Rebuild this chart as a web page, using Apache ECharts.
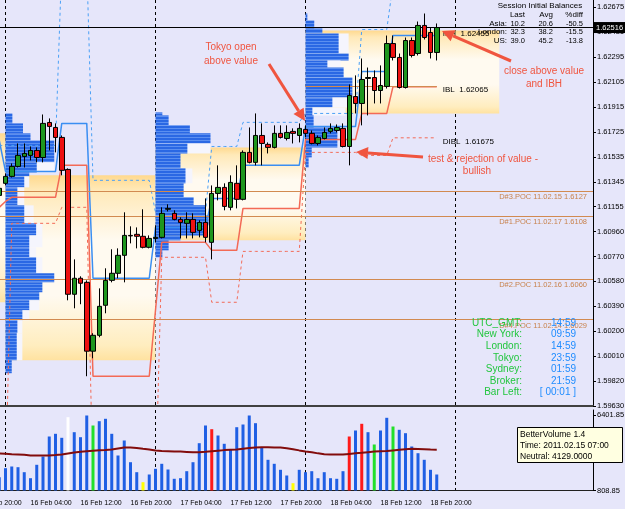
<!DOCTYPE html>
<html>
<head>
<meta charset="utf-8">
<title>GBPUSD H1 - sessions and market profile</title>
<script src="https://cdn.jsdelivr.net/npm/echarts@6.0.0/dist/echarts.min.js"></script>
<style>
  html, body { margin: 0; padding: 0; background: #e6e6fa; }
  #chart { width: 625px; height: 509px; }
</style>
</head>
<body>
<div id="chart"></div>
<script>
// hourly bars (broker time), first bar is 15 Feb 23:00
var barOpen = [
  1.61236, 1.61328, 1.61381, 1.61457, 1.61533, 1.61541, 1.61579, 1.61525, 1.61792, 1.61754,
  1.61678, 1.61434, 1.60482, 1.60604, 1.60573, 1.60048, 1.60169, 1.60398, 1.60588, 1.60642,
  1.60779, 1.60931, 1.60939, 1.60924, 1.60840, 1.60908, 1.60916, 1.61130, 1.61099, 1.61053,
  1.61023, 1.61053, 1.60969, 1.61030, 1.60878, 1.61251, 1.61297, 1.61145, 1.61328, 1.61206,
  1.61564, 1.61488, 1.61693, 1.61625, 1.61602, 1.61709, 1.61670, 1.61724, 1.61693, 1.61739,
  1.61709, 1.61632, 1.61670, 1.61724, 1.61731, 1.61747, 1.61609, 1.61990, 1.61937, 1.62128,
  1.62135, 1.62036, 1.62067, 1.62394, 1.62288, 1.62059, 1.62417, 1.62318, 1.62532, 1.62478,
  1.62326
];
var barHigh = [
  1.61312, 1.61404, 1.61480, 1.61632, 1.61632, 1.61609, 1.61602, 1.61853, 1.61823, 1.61785,
  1.61693, 1.61442, 1.60748, 1.60619, 1.60588, 1.60185, 1.60527, 1.60680, 1.60825, 1.60832,
  1.61107, 1.61000, 1.60992, 1.61130, 1.60931, 1.61008, 1.61145, 1.61168, 1.61122, 1.61069,
  1.61107, 1.61099, 1.61046, 1.61213, 1.61312, 1.61465, 1.61328, 1.61389, 1.61465, 1.61579,
  1.61754, 1.61861, 1.61785, 1.61640, 1.61770, 1.61770, 1.61770, 1.61747, 1.61785, 1.61770,
  1.61731, 1.61693, 1.61754, 1.61785, 1.61777, 1.61785, 1.62082, 1.62151, 1.62280, 1.62211,
  1.62189, 1.62227, 1.62455, 1.62455, 1.62318, 1.62440, 1.62440, 1.62562, 1.62623, 1.62516,
  1.62547
];
var barLow = [
  1.61213, 1.61312, 1.61373, 1.61449, 1.61449, 1.61503, 1.61488, 1.61488, 1.61579, 1.61564,
  1.61389, 1.60436, 1.60375, 1.60406, 1.59857, 1.59994, 1.60154, 1.60337, 1.60573, 1.60604,
  1.60573, 1.60870, 1.60832, 1.60832, 1.60832, 1.60878, 1.60908, 1.61114, 1.61046, 1.60908,
  1.60908, 1.60908, 1.60916, 1.60878, 1.60748, 1.61198, 1.61122, 1.61122, 1.61137, 1.61198,
  1.61480, 1.61465, 1.61465, 1.61556, 1.61594, 1.61670, 1.61655, 1.61632, 1.61640, 1.61678,
  1.61625, 1.61617, 1.61663, 1.61709, 1.61716, 1.61602, 1.61465, 1.61861, 1.61770, 1.61846,
  1.61937, 1.61937, 1.62051, 1.62265, 1.62051, 1.62051, 1.62288, 1.62303, 1.62425, 1.62280,
  1.62265
];
var barClose = [
  1.61290, 1.61381, 1.61457, 1.61541, 1.61556, 1.61579, 1.61525, 1.61785, 1.61762, 1.61678,
  1.61427, 1.60482, 1.60604, 1.60566, 1.60048, 1.60169, 1.60390, 1.60588, 1.60642, 1.60779,
  1.60931, 1.60927, 1.60924, 1.60840, 1.60908, 1.60916, 1.61099, 1.61137, 1.61053, 1.61030,
  1.61053, 1.60954, 1.61030, 1.60916, 1.61251, 1.61297, 1.61152, 1.61335, 1.61206, 1.61564,
  1.61488, 1.61693, 1.61632, 1.61602, 1.61709, 1.61678, 1.61716, 1.61709, 1.61747, 1.61709,
  1.61632, 1.61678, 1.61716, 1.61747, 1.61754, 1.61609, 1.61998, 1.61937, 1.62120, 1.62135,
  1.62036, 1.62074, 1.62394, 1.62288, 1.62059, 1.62417, 1.62303, 1.62532, 1.62440, 1.62326,
  1.62516
];

// BetterVolume 1.4
var volume = [
  1794, 2461, 2587, 2535, 2165, 1720, 2713, 3328, 4809, 5009,
  4713, 6239, 5128, 4757, 6365, 5624, 5943, 6121, 5009, 3402,
  4513, 2905, 2165, 1424, 1994, 2416, 2787, 2365, 1676, 1720,
  2239, 2905, 4313, 5624, 5350, 4883, 4269, 3824, 5498, 5698,
  6365, 5795, 3972, 3083, 2787, 2342, 1920, 1350, 2342, 2165,
  2239, 1720, 2165, 1720, 1676, 2239, 4809, 5254, 5750, 5128,
  4217, 5254, 6195, 5550, 5306, 5054, 4069, 3572, 3083, 2342,
  1994
];
var volumeAverage = [
  3560, 3530, 3500, 3480, 3460, 3410, 3400, 3400, 3410, 3430,
  3480, 3550, 3620, 3680, 3720, 3760, 3790, 3810, 3850, 3920,
  3990, 3990, 3960, 3900, 3850, 3770, 3740, 3720, 3700, 3690,
  3670, 3650, 3650, 3680, 3720, 3760, 3800, 3830, 3850, 3900,
  3950, 4000, 4020, 4010, 4000, 3990, 3940, 3870, 3780, 3700,
  3640, 3560, 3500, 3480, 3470, 3480, 3520, 3560, 3600, 3650,
  3690, 3720, 3740, 3780, 3820, 3860, 3900, 3880, 3860, 3840,
  3830
];
var climaxHighBars = [34, 56, 58];
var climaxLowBars = [11];
var churnBars = [15, 60, 63];
var lowVolumeBars = [23, 47];

// developing initial balance levels per bar
var ibHigh = [
  1.61655,
  1.61419, 1.61419, 1.61419, 1.61419, 1.61419, 1.61419, 1.61419, 1.61419, 1.61419,
  1.61785, 1.61785, 1.61785, 1.61785, 1.61785,
  1.60604, 1.60604, 1.60604, 1.60604, 1.60604, 1.60604, 1.60604, 1.60604, 1.60604, 1.60604,
  1.60992, 1.60992, 1.60992, 1.60992, 1.60992, 1.60992, 1.60992, 1.60992, 1.60992,
  1.61213, 1.61213, 1.61213, 1.61213, 1.61213,
  1.61465, 1.61465, 1.61465, 1.61465, 1.61465, 1.61465, 1.61465, 1.61465, 1.61465, 1.61465,
  1.61762, 1.61762, 1.61762, 1.61762, 1.61762, 1.61762, 1.61762, 1.61762, 1.61762,
  1.62181, 1.62181, 1.62181, 1.62181, 1.62181,
  1.62455, 1.62455, 1.62455, 1.62455, 1.62455, 1.62455, 1.62455, 1.62455
];
var ibLow = [
  1.61145,
  1.61190, 1.61221, 1.61221, 1.61221, 1.61221, 1.61221, 1.61221, 1.61221, 1.61221,
  1.61465, 1.61465, 1.61465, 1.61465, 1.61465,
  1.59857, 1.59857, 1.59857, 1.59857, 1.59857, 1.59857, 1.59857, 1.59857, 1.59857, 1.59857,
  1.60360, 1.60878, 1.60878, 1.60878, 1.60878, 1.60878, 1.60878, 1.60878, 1.60878,
  1.60817, 1.60817, 1.60817, 1.60817, 1.60817,
  1.61137, 1.61137, 1.61137, 1.61137, 1.61137, 1.61137, 1.61137, 1.61137, 1.61137, 1.61137,
  1.61663, 1.61663, 1.61663, 1.61663, 1.61663, 1.61663, 1.61663, 1.61663, 1.61663,
  1.61861, 1.61861, 1.61861, 1.61861, 1.61861,
  1.62065, 1.62065, 1.62065, 1.62065, 1.62065, 1.62065, 1.62065, 1.62065
];
var doubleIbHigh = [
  1.61617,
  1.61617, 1.61617, 1.61617, 1.61617, 1.61617, 1.61617, 1.61617, 1.61617, 1.61617,
  1.63000, 1.63000, 1.63000, 1.63000, 1.63000,
  1.61351, 1.61351, 1.61351, 1.61351, 1.61351, 1.61351, 1.61351, 1.61351, 1.61351, 1.61351,
  1.61106, 1.61106, 1.61106, 1.61106, 1.61106, 1.61106, 1.61106, 1.61106, 1.61106,
  1.61609, 1.61609, 1.61609, 1.61609, 1.61609,
  1.61793, 1.61793, 1.61793, 1.61793, 1.61793, 1.61793, 1.61793, 1.61793, 1.61793, 1.61793,
  1.61861, 1.61861, 1.61861, 1.61861, 1.61861, 1.61861, 1.61861, 1.61861, 1.61861,
  1.62501, 1.62501, 1.62501, 1.62501, 1.62501,
  1.62845, 1.62845, 1.62845, 1.62845, 1.62845, 1.62845, 1.62845, 1.62845
];
var doubleIbLow = [
  1.59000,
  1.59000, 1.61023, 1.61023, 1.61023, 1.61023, 1.61023, 1.61023, 1.61023, 1.61023,
  1.61145, 1.61145, 1.61145, 1.61145, 1.61145,
  1.59000, 1.59000, 1.59000, 1.59000, 1.59000, 1.59000, 1.59000, 1.59000, 1.59000, 1.59000,
  1.59000, 1.60764, 1.60764, 1.60764, 1.60764, 1.60764, 1.60764, 1.60764, 1.60764,
  1.60421, 1.60421, 1.60421, 1.60421, 1.60421,
  1.60809, 1.60809, 1.60809, 1.60809, 1.60809, 1.60809, 1.60809, 1.60809, 1.60809, 1.60809,
  1.61564, 1.61564, 1.61564, 1.61564, 1.61564, 1.61564, 1.61564, 1.61564, 1.61564,
  1.61541, 1.61541, 1.61541, 1.61541, 1.61541,
  1.61675, 1.61675, 1.61675, 1.61675, 1.61675, 1.61675, 1.61675, 1.61675
];

// market profiles: price levels (top to bottom) and widths in bars between them
var profile16Start = '16 Feb 00:00';
var profile16Levels = [1.61861, 1.61785, 1.61709, 1.61655, 1.61488, 1.61411, 1.61381, 1.61297, 1.61221, 1.61160,
  1.61023, 1.60931, 1.60840, 1.60764, 1.60642, 1.60573, 1.60497, 1.60436, 1.60360, 1.60284, 1.60185, 1.59979, 1.59880];
var profile16Width = [1.1, 2.8, 4.0, 7.8, 5.0, 3.8, 3.0, 1.9, 1.9, 3.0, 4.9, 3.8, 3.8, 4.9, 7.8, 5.9, 5.4, 3.8, 2.7, 1.9, 1.8, 1.0];
var profile16Ghost = [0, 0, 0, 0, 7.8, 0, 3.8, 3.0, 3.0, 4.5, 5.9, 5.9, 4.9, 5.9, 0, 0, 0, 5.4, 3.8, 2.7, 2.7, 0];

var profile17Start = '17 Feb 00:00';
var profile17Levels = [1.61869, 1.61846, 1.61770, 1.61709, 1.61632, 1.61556, 1.61442, 1.61328, 1.61221, 1.61160,
  1.61084, 1.61008, 1.60931, 1.60893, 1.60817, 1.60764];
var profile17Width = [1.1, 2.1, 5.5, 8.8, 5.1, 4.0, 4.8, 4.5, 6.1, 8.0, 8.5, 8.0, 4.0, 2.1, 1.1];
var profile17Ghost = [0, 0, 0, 0, 8.8, 0, 5.9, 0, 0, 0, 0, 0, 0, 0, 0];

var profile18Start = '18 Feb 00:00';
var profile18Levels = [1.62623, 1.62570, 1.62509, 1.62471, 1.62318, 1.62265, 1.62211, 1.62135, 1.61983, 1.61907,
  1.61846, 1.61754, 1.61602, 1.61526, 1.61449];
var profile18Width = [0.3, 1.4, 2.7, 5.3, 6.9, 3.5, 6.1, 7.5, 4.3, 1.1, 1.3, 5.1, 1.0, 0.5];
var profile18Ghost = [0, 0, 0, 6.9, 0, 5.6, 0, 0, 6.9, 6.4, 0, 0, 0, 0];

// value areas
var vaStart = ['15 Feb 20:00', '16 Feb 00:00', '17 Feb 00:00', '18 Feb 00:00'];
var vaEnd = ['16 Feb 00:00', '17 Feb 00:00', '18 Feb 00:00', '19 Feb 07:00'];
var vaHigh = [1.61709, 1.61389, 1.61602, 1.62494];
var vaLow = [1.60421, 1.59979, 1.60893, 1.61861];

// prior day POCs
var pocNames = ['D#0.POC 11.02.18', 'D#3.POC 11.02.15', 'D#1.POC 11.02.17', 'D#2.POC 11.02.16', 'D#4.POC 11.02.14'];
var pocPrices = [1.6207, 1.6127, 1.6108, 1.6060, 1.6029];

// axis labels
var priceTicks = ['1.59630', '1.59820', '1.60010', '1.60200', '1.60390', '1.60580', '1.60770', '1.60960', '1.61155',
  '1.61345', '1.61535', '1.61725', '1.61915', '1.62105', '1.62295', '1.62485', '1.62675'];
var volumeTicks = ['808.85', '6401.85'];

// panels text
var balanceTitle = 'Session Initial Balances';
var balanceHeader = ['Last', 'Avg', '%diff'];
var balanceSessions = ['Asia:', 'London:', 'US:'];
var balanceLast = ['10.2', '32.3', '39.0'];
var balanceAvg = ['20.6', '38.2', '45.2'];
var balanceDiff = ['-50.5', '-15.5', '-13.8'];
var clockNames = ['UTC_GMT:', 'New York:', 'London:', 'Tokyo:', 'Sydney:', 'Broker:', 'Bar Left:'];
var clockTimes = ['14:59', '09:59', '14:59', '23:59', '01:59', '21:59', '[ 00:01 ]'];
var infoLines = ['BetterVolume 1.4', 'Time: 2011.02.15 07:00', 'Neutral: 4129.0000'];

// ---------------------------------------------------------------
var axisStart = Date.UTC(2011, 1, 15, 20);
var axisHours = 99;
var firstBar = 3;
var lastBarIndex = firstBar + barClose.length - 1;
var categories = [], hourOf = [];
for (var i = 0; i < axisHours; i++) {
  var d = new Date(axisStart + i * 3600000);
  var h = d.getUTCHours();
  hourOf.push(h);
  categories.push(d.getUTCDate() + ' Feb ' + (h < 10 ? '0' : '') + h + ':00');
}
function onAxis(values) {
  var out = [];
  for (var i = 0; i < axisHours; i++) {
    var k = i - firstBar;
    out.push(k >= 0 && k < values.length ? values[k] : '-');
  }
  return out;
}

var priceMin = 1.5963, priceMax = 1.62726, priceStep = 0.0019;
var volTopPx = 80.5, volSpanPx = 75.5;
var volMin = 808.85, volMax = 808.85 + (6401.85 - 808.85) * volTopPx / volSpanPx;

var candles = barOpen.map(function (o, k) { return [o, barClose[k], barLow[k], barHigh[k]]; });
var lastPrice = barClose[barClose.length - 1];

function volumeColor(k) {
  if (climaxHighBars.indexOf(k) >= 0) return '#ff1a1a';
  if (climaxLowBars.indexOf(k) >= 0) return '#ffffff';
  if (churnBars.indexOf(k) >= 0) return '#22e02a';
  if (lowVolumeBars.indexOf(k) >= 0) return '#ffff00';
  return '#1f5fe4';
}
var volumeData = volume.map(function (v, k) { return { value: v, itemStyle: { color: volumeColor(k) } }; });

// profile rows
var profileData = [];
function addProfile(start, levels, widths, ghosts) {
  var idx = categories.indexOf(start);
  for (var j = 0; j < widths.length; j++) {
    profileData.push([idx, levels[j], levels[j + 1], widths[j], ghosts[j]]);
  }
}
addProfile(profile16Start, profile16Levels, profile16Width, profile16Ghost);
addProfile(profile17Start, profile17Levels, profile17Width, profile17Ghost);
addProfile(profile18Start, profile18Levels, profile18Width, profile18Ghost);

var stripe = document.createElement('canvas');
stripe.width = 2; stripe.height = 3;
var sctx = stripe.getContext('2d');
sctx.fillStyle = '#2a68e4'; sctx.fillRect(0, 0, 2, 3);
sctx.fillStyle = '#5b8ff0'; sctx.fillRect(0, 2, 2, 1);
var stripeFill = { image: stripe, repeat: 'repeat' };

function renderProfile(params, api) {
  var top = api.coord([api.value(0), api.value(1)]);
  var bottom = api.coord([api.value(0), api.value(2)]);
  var slot = api.size([1, 0])[0];
  var hgt = bottom[1] - top[1];
  var kids = [];
  if (api.value(4) > 0) {
    kids.push({ type: 'rect', shape: { x: top[0], y: top[1], width: api.value(4) * slot, height: hgt }, style: { fill: '#f5f5fd' } });
  }
  kids.push({ type: 'rect', shape: { x: top[0], y: top[1], width: api.value(3) * slot, height: hgt }, style: { fill: stripeFill } });
  return { type: 'group', children: kids };
}

var vaGradient = {
  type: 'linear', x: 0, y: 0, x2: 0, y2: 1,
  colorStops: [
    { offset: 0, color: '#ffd98e' }, { offset: 0.08, color: '#ffe9b8' },
    { offset: 0.35, color: '#fffaf0' }, { offset: 0.65, color: '#fffaf0' },
    { offset: 0.92, color: '#ffedbf' }, { offset: 1, color: '#ffe2a0' }
  ]
};
var vaAreas = vaHigh.map(function (hi, i) {
  return [{ xAxis: vaStart[i], yAxis: hi, itemStyle: { color: vaGradient } }, { xAxis: vaEnd[i], yAxis: vaLow[i] }];
});

var lastCat = categories[lastBarIndex];
var pocLines = [];
pocNames.forEach(function (n, i) {
  var label = n + ' ' + pocPrices[i].toFixed(4);
  if (i === 0) {
    pocLines.push([{ coord: [profile18Start, pocPrices[i]], label: { show: false } }, { coord: [lastCat, pocPrices[i]] }]);
    pocLines.push([{ coord: [lastCat, pocPrices[i]], name: label, lineStyle: { opacity: 0 } }, { coord: [categories[axisHours - 1], pocPrices[i]] }]);
  } else {
    pocLines.push([{ coord: [categories[0], pocPrices[i]], name: label }, { coord: [categories[axisHours - 1], pocPrices[i]] }]);
  }
});

function daySplit(index) { return hourOf[index] === 0; }
function labelHour(index) { return hourOf[index] % 8 === 4 && index <= lastBarIndex; }

function ibSeries(name, values, color, dashed, labelText, dy) {
  return {
    name: name, type: 'line', xAxisIndex: 0, yAxisIndex: 0, z: 4, silent: true,
    data: onAxis(values), symbol: 'none',
    lineStyle: { color: color, width: dashed ? 1 : 1.5, type: dashed ? [3, 3] : 'solid' },
    endLabel: labelText ? {
      show: true, distance: 6, offset: [0, dy], color: '#000', fontSize: 8,
      formatter: function (p) { return labelText + '  ' + Number(p.value).toFixed(5); }
    } : { show: false }
  };
}

var annotationColor = '#f0553f';
function arrow(x1, y1, x2, y2) {
  var dx = x2 - x1, dy = y2 - y1, len = Math.sqrt(dx * dx + dy * dy);
  var ux = dx / len, uy = dy / len, hl = 12, hw = 6;
  var bx = x2 - ux * hl, by = y2 - uy * hl;
  return [
    { type: 'line', z: 100, shape: { x1: x1, y1: y1, x2: bx, y2: by }, style: { stroke: annotationColor, lineWidth: 3 } },
    { type: 'polygon', z: 100, shape: { points: [[x2, y2], [bx - uy * hw, by + ux * hw], [bx + uy * hw, by - ux * hw]] }, style: { fill: annotationColor } }
  ];
}
function txt(x, y, text, color, size, align) {
  return {
    type: 'text', z: 100, x: x, y: y,
    style: {
      text: text, fill: color, font: size + 'px "Liberation Sans"',
      align: align || 'left', verticalAlign: 'middle', textAlign: align || 'left', textVerticalAlign: 'middle'
    }
  };
}

var graphics = [];
graphics.push(txt(231, 47, 'Tokyo open', annotationColor, 10, 'center'));
graphics.push(txt(231, 61, 'above value', annotationColor, 10, 'center'));
graphics.push(txt(544, 71, 'close above value', annotationColor, 10, 'center'));
graphics.push(txt(544, 84, 'and IBH', annotationColor, 10, 'center'));
graphics.push(txt(483, 159, 'test & rejection of value -', annotationColor, 10, 'center'));
graphics.push(txt(477, 171, 'bullish', annotationColor, 10, 'center'));
graphics = graphics.concat(arrow(269, 64, 305, 121), arrow(511, 61, 442, 31), arrow(423, 157, 356, 152));

graphics.push(txt(540, 6, balanceTitle, '#000', 8, 'center'));
graphics.push(txt(525, 15, balanceHeader[0], '#000', 8, 'right'));
graphics.push(txt(553, 15, balanceHeader[1], '#000', 8, 'right'));
graphics.push(txt(583, 15, balanceHeader[2], '#000', 8, 'right'));
balanceSessions.forEach(function (s, i) {
  var y = 23.5 + i * 8.5;
  graphics.push(txt(507, y, s, '#000', 8, 'right'));
  graphics.push(txt(525, y, balanceLast[i], '#000', 7.5, 'right'));
  graphics.push(txt(553, y, balanceAvg[i], '#000', 7.5, 'right'));
  graphics.push(txt(583, y, balanceDiff[i], '#000', 7.5, 'right'));
});

clockNames.forEach(function (n, i) {
  var y = 323 + i * 11.6;
  graphics.push(txt(522, y, n, '#22c63e', 10, 'right'));
  graphics.push(txt(576, y, clockTimes[i], '#1e8cff', 10, 'right'));
});

graphics.push({ type: 'rect', z: 100, shape: { x: 517.5, y: 427.5, width: 105, height: 35 }, style: { fill: '#ffffe1', stroke: '#000', lineWidth: 1 } });
infoLines.forEach(function (t, i) {
  graphics.push(txt(520, 435 + i * 11, t, '#000', 8.5, 'left'));
});

var chartDom = document.getElementById('chart');
var myChart = echarts.init(chartDom);
var option = {
  backgroundColor: '#e6e6fa',
  animation: false,
  textStyle: { fontFamily: 'Liberation Sans' },
  grid: [
    { left: -19.5, top: 0, width: 612.5, height: 406, containLabel: false, outerBoundsMode: 'none' },
    { left: -19.5, top: 410, width: 612.5, height: volTopPx, containLabel: false, outerBoundsMode: 'none' }
  ],
  xAxis: [
    {
      gridIndex: 0, type: 'category', data: categories, boundaryGap: false,
      axisLine: { show: true, lineStyle: { color: '#404040', width: 2 } },
      axisTick: { show: false }, axisLabel: { show: false },
      splitLine: { show: true, interval: daySplit, lineStyle: { color: '#000', type: [3, 3], width: 1 } }
    },
    {
      gridIndex: 1, type: 'category', data: categories, boundaryGap: false, offset: 6,
      axisLine: { show: true, lineStyle: { color: '#202020', width: 1 } },
      axisTick: { show: false },
      axisLabel: { interval: labelHour, align: 'left', fontSize: 7, color: '#000', margin: 3 },
      splitLine: { show: true, interval: daySplit, lineStyle: { color: '#000', type: [3, 3], width: 1 } }
    }
  ],
  yAxis: [
    { gridIndex: 0, type: 'value', min: priceMin, max: priceMax, show: false },
    {
      gridIndex: 0, type: 'value', position: 'right', min: 0, max: (priceMax - priceMin) / priceStep, interval: 1,
      axisLine: { show: true, lineStyle: { color: '#000' } },
      axisTick: { show: true, length: 3, lineStyle: { color: '#000' } },
      splitLine: { show: false },
      axisLabel: {
        margin: 4, fontSize: 7.5, color: '#000', showMaxLabel: false,
        formatter: function (v) { var i = Math.round(v); return Math.abs(v - i) < 1e-6 ? (priceTicks[i] || '') : ''; }
      }
    },
    { gridIndex: 1, type: 'value', min: volMin, max: volMax, show: false },
    {
      gridIndex: 1, type: 'value', position: 'right', min: 0, max: volTopPx / volSpanPx, interval: 1,
      axisLine: { show: true, lineStyle: { color: '#000' } },
      axisTick: { show: true, length: 3, lineStyle: { color: '#000' } },
      splitLine: { show: false },
      axisLabel: {
        margin: 4, fontSize: 7.5, color: '#000', showMaxLabel: false,
        formatter: function (v) { return v === 0 ? volumeTicks[0] : (v === 1 ? volumeTicks[1] : ''); }
      }
    }
  ],
  series: [
    {
      name: 'value areas', type: 'line', xAxisIndex: 0, yAxisIndex: 0, z: 1, silent: true,
      data: onAxis([]), symbol: 'none',
      markArea: { silent: true, data: vaAreas }
    },
    {
      name: 'profile', type: 'custom', xAxisIndex: 0, yAxisIndex: 0, z: 2, silent: true,
      renderItem: renderProfile, data: profileData
    },
    {
      name: 'POC', type: 'line', xAxisIndex: 0, yAxisIndex: 0, z: 3, silent: true,
      data: onAxis([]), symbol: 'none',
      markLine: {
        silent: true, symbol: ['none', 'none'],
        lineStyle: { color: '#d28a50', width: 1, type: 'solid' },
        label: { show: true, position: 'insideEndBottom', formatter: '{b}', color: '#c8824c', fontSize: 7.5, distance: [6, 2] },
        data: pocLines
      }
    },
    ibSeries('IBH', ibHigh, '#3a8ef2', false, 'IBH', -2),
    ibSeries('IBL', ibLow, '#f36a56', false, 'IBL', 3),
    ibSeries('DIBH', doubleIbHigh, '#4aa0f6', true, null, 0),
    ibSeries('DIBL', doubleIbLow, '#f36a56', true, 'DIBL', 4),
    {
      name: 'GBPUSD,H1', type: 'candlestick', xAxisIndex: 0, yAxisIndex: 0, z: 6,
      data: onAxis(candles), barWidth: 5,
      itemStyle: { color: '#1e961e', color0: '#ee1111', borderColor: '#000', borderColor0: '#000', borderColorDoji: '#000', borderWidth: 1 }
    },
    {
      name: 'Bid', type: 'line', xAxisIndex: 0, yAxisIndex: 0, z: 7, silent: true,
      data: onAxis([]), symbol: 'none',
      markLine: {
        silent: true, symbol: ['none', 'none'],
        lineStyle: { color: '#000', width: 1, type: 'solid' },
        label: {
          show: true, position: 'end', distance: 1, formatter: lastPrice.toFixed(5),
          color: '#fff', backgroundColor: '#000', fontSize: 7.5, padding: [2, 2, 1, 2]
        },
        data: [[{ coord: [categories[0], lastPrice] }, { coord: [categories[axisHours - 1], lastPrice] }]]
      }
    },
    {
      name: 'BetterVolume', type: 'bar', xAxisIndex: 1, yAxisIndex: 2, z: 2,
      data: onAxis(volumeData), barWidth: 3
    },
    {
      name: 'Volume average', type: 'line', xAxisIndex: 1, yAxisIndex: 2, z: 3,
      data: onAxis(volumeAverage), symbol: 'none',
      lineStyle: { color: '#820c0c', width: 2 }
    }
  ],
  graphic: graphics
};

option && myChart.setOption(option);
window.addEventListener('resize', function () {
  myChart.resize();
});
</script>
</body>
</html>
